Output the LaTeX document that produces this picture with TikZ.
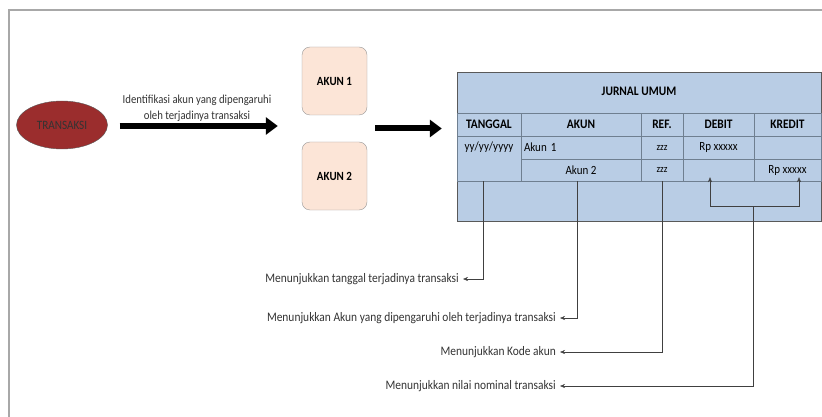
\documentclass[tikz,border=0pt]{standalone}
\usepackage{fontspec}
\setmainfont[FakeStretch=0.88]{Carlito}
\usepackage{xcolor}
\usepackage{tikz}
\usetikzlibrary{positioning,arrows.meta,calc,shapes.geometric}

\definecolor{trxred}{HTML}{9B2D2D}
\definecolor{akunfill}{HTML}{FCE5D7}
\definecolor{tblfill}{HTML}{B9CDE5}
\definecolor{tblline}{HTML}{6F7F90}
\definecolor{framegray}{HTML}{A8A8A8}

\begin{document}
\begin{tikzpicture}[
    x=1pt, y=-1pt,
    trx/.style={ellipse, draw=gray!70!black, fill=trxred, minimum width=91pt, minimum height=48pt, inner sep=0pt, font=\fontsize{12.7}{14}\selectfont, text=black!80},
    akun/.style={draw=gray!80, fill=akunfill, rounded corners=8pt, minimum width=65pt, minimum height=68pt, font=\fontsize{12.5}{14}\selectfont\bfseries},
    hcell/.style={draw=tblline, minimum height=23pt, inner sep=0pt, font=\fontsize{13}{14}\selectfont\bfseries},
    cell/.style={draw=tblline, inner sep=0pt, font=\fontsize{12.5}{14}\selectfont},
    bigarr/.style={-{Triangle[length=12pt,width=17pt]}, line width=6pt, black},
    tip/.style={-{Stealth[length=5pt,width=4pt]}, thin, black!75},
    lbl/.style={inner sep=4pt, font=\fontsize{13}{15}\selectfont, text=black!80}
]
\useasboundingbox (0,0) rectangle (822,417);
% Frame
\draw[framegray, line width=1.2pt] (822,10) -- (9,10) -- (9,417);

% Transaction and accounts
\node[trx] (trans) at (62,125) {TRANSAKSI};
\node[akun] (akun1) at (334.5,81) {AKUN 1};
\node[akun] (akun2) at (334.5,176) {AKUN 2};
\coordinate (mid) at ($(akun1.south)!0.5!(akun2.north)$);

% Journal table
\node[draw=gray!70!black, fill=tblfill, minimum width=364pt, minimum height=149pt, inner sep=0pt] (jurnal) at (639,146.5) {};
\node[font=\fontsize{13}{14}\selectfont\bfseries] (judul) at (639,91) {JURNAL UMUM};

\node[hcell, minimum width=64pt] (hTgl) at (489,124.5) {TANGGAL};
\node[hcell, minimum width=120pt] (hAkun) at (581,124.5) {AKUN};
\node[hcell, minimum width=42pt] (hRef) at (662,124.5) {REF.};
\node[hcell, minimum width=71pt] (hDeb) at (718.5,124.5) {DEBIT};
\node[hcell, minimum width=67pt] (hKre) at (787.5,124.5) {KREDIT};

\node[cell, minimum width=64pt, minimum height=45pt] (dTgl) at (489,158.5) {};
\node[cell, draw=none] (tglTxt) at (489,147.5) {yy/yy/yyyy};
\node[cell, minimum width=120pt, minimum height=23pt, text width=114pt, align=left] (a1Akun) at (581,147.5) {Akun 1};
\node[cell, minimum width=42pt, minimum height=23pt, font=\fontsize{10.5}{12}\selectfont] (a1Ref) at (662,147.5) {zzz};
\node[cell, minimum width=71pt, minimum height=23pt] (a1Deb) at (718.5,147.5) {Rp xxxxx};
\node[cell, minimum width=67pt, minimum height=23pt] (a1Kre) at (787.5,147.5) {};

\node[cell, minimum width=120pt, minimum height=22pt] (a2Akun) at (581,170) {Akun 2};
\node[cell, minimum width=42pt, minimum height=22pt, font=\fontsize{10.5}{12}\selectfont] (a2Ref) at (662,170) {zzz};
\node[cell, minimum width=71pt, minimum height=22pt] (a2Deb) at (718.5,170) {};
\node[cell, minimum width=67pt, minimum height=22pt] (a2Kre) at (787.5,170) {Rp xxxxx};

% Main flow
\draw[bigarr] ([xshift=12pt]trans.east |- 0,126) -- ([xshift=-24pt]akun1.west |- 0,126);
\node[font=\fontsize{12.2}{16}\selectfont, align=center, text=black!80] (idtxt) at (197,108) {Identifikasi akun yang dipengaruhi\\oleh terjadinya transaksi};
\draw[bigarr] ([xshift=8pt]mid -| akun1.east) -- ([xshift=-15pt]mid -| jurnal.west);

% Explanations
\node[lbl, anchor=east] (l1) at (463,279) {Menunjukkan tanggal terjadinya transaksi};
\node[lbl, anchor=east] (l2) at (560,318) {Menunjukkan Akun yang dipengaruhi oleh terjadinya transaksi};
\node[lbl, anchor=east] (l3) at (560,352) {Menunjukkan Kode akun};
\node[lbl, anchor=east] (l4) at (560,386) {Menunjukkan nilai nominal transaksi};

\draw[tip] ([xshift=-6pt]dTgl.south) |- (l1.east);
\draw[tip] ([xshift=-4pt]a2Akun.south) |- (l2.east);
\draw[tip] (a2Ref.south) |- (l3.east);

\coordinate (brk) at (753,206);
\draw[tip] (brk) -| ([xshift=-8.5pt,yshift=4pt]a2Deb.south);
\draw[tip] (brk) -| ([xshift=11.5pt,yshift=4pt]a2Kre.south);
\draw[tip] (brk) |- (l4.east);
\end{tikzpicture}
\end{document}
